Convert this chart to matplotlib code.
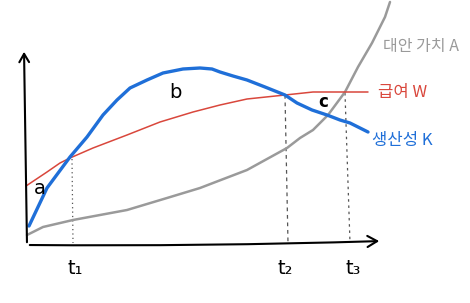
import matplotlib
matplotlib.use("Agg")
import matplotlib.pyplot as plt

plt.rcParams["font.family"] = ["Noto Sans CJK KR", "DejaVu Sans"]

# ── curves (x from origin to the right, y up from the time axis) ─────────────
k_x = [2, 20, 43, 60, 76, 90, 103, 120, 136, 156, 173, 185, 193, 206, 220,
       238, 258, 270, 285, 300, 313, 323, 341]
k_y = [19, 57, 88, 108, 130, 145, 157, 165, 172, 176, 177, 176, 173, 169, 165,
       158, 150, 142, 135, 130, 125, 122, 113]

w_x = [-1, 20, 33, 43, 66, 100, 133, 166, 193, 220, 258, 286, 313, 341]
w_y = [59, 73, 82, 87, 97, 110, 123, 133, 140, 146, 150, 153, 153, 153]

a_x = [0, 16, 46, 100, 140, 173, 186, 220, 260, 273, 286, 301, 318, 331, 345, 358, 363]
a_y = [10, 18, 25, 35, 47, 57, 62, 75, 97, 107, 115, 130, 153, 178, 202, 228, 243]

# ── time points ──────────────────────────────────────────────────────────────
t_names = ["t₁", "t₂", "t₃"]
t_label_x = [48, 258, 326]
t_top_x = [45, 258, 318]
t_bot_x = [46, 261, 323]
t_top_y = [86, 150, 152]
t_styles = [(0, (1, 2.5)), (0, (3, 3)), (0, (2, 3))]

curve_labels = ["대안 가치 A", "급여 W", "생산성 K"]

fig = plt.figure(figsize=(4.7, 3.03), dpi=100)
ax = fig.add_axes([0, 0, 1, 1])
ax.set_xlim(-27, 443)
ax.set_ylim(-58, 245)
ax.axis("off")

# axes with open arrow heads
ax.annotate("", xy=(-3, 196), xytext=(0, 0),
            arrowprops=dict(arrowstyle="->,head_length=0.6,head_width=0.35",
                            color="black", lw=1.5))
ax.annotate("", xy=(355, 4), xytext=(0, 0),
            arrowprops=dict(arrowstyle="->,head_length=0.7,head_width=0.4",
                            color="black", lw=1.5,
                            connectionstyle="arc3,rad=0.01"))

# vertical guides
for tx0, tx1, ty, ls in zip(t_top_x, t_bot_x, t_top_y, t_styles):
    ax.plot([tx0, tx1], [ty, 2], color="#555555", lw=0.9, ls=ls)

ax.plot(a_x, a_y, color="#9a9a9a", lw=1.8, solid_capstyle="round",
        solid_joinstyle="round")
ax.plot(w_x, w_y, color="#d9473c", lw=1.1, solid_capstyle="round",
        solid_joinstyle="round")
ax.plot(k_x, k_y, color="#1f6fd8", lw=2.4, solid_capstyle="round",
        solid_joinstyle="round")

# region letters
ax.text(13, 57, "a", fontsize=14, ha="center", va="center", family="DejaVu Sans")
ax.text(148, 152, "b", fontsize=14, ha="center", va="center", family="DejaVu Sans")
ax.text(296, 143, "c", fontsize=12, ha="center", va="center", family="DejaVu Sans",
        fontweight="bold")

# time labels
for name, tx in zip(t_names, t_label_x):
    ax.text(tx, -23, name, fontsize=14, ha="center", va="center",
            family="DejaVu Sans")

# curve names
ax.text(356, 198, curve_labels[0], fontsize=11.5, color="#9a9a9a", va="center")
ax.text(351, 153, curve_labels[1], fontsize=12, color="#d9473c", va="center")
ax.text(345, 105, curve_labels[2], fontsize=12, color="#1f6fd8", va="center")

fig.savefig("out.png", dpi=100)
